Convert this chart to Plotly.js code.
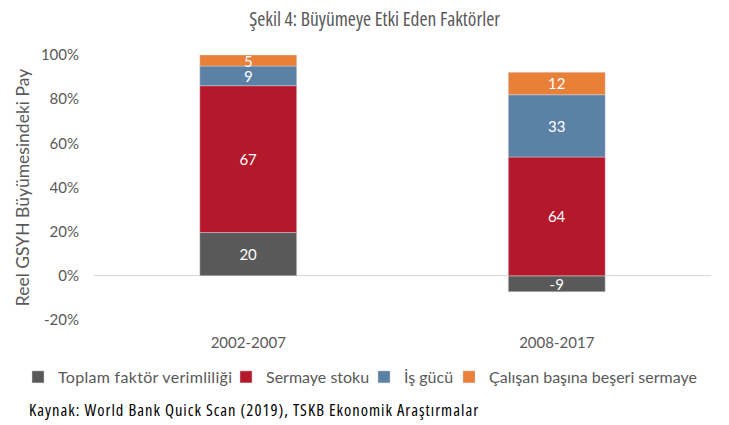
<!DOCTYPE html>
<html>
<head>
<meta charset="utf-8">
<script src="https://cdn.plot.ly/plotly-3.0.1.min.js"></script>
<style>html,body{margin:0;padding:0;background:#fff;}#chart{width:729px;height:425px;}
.gtitle { font-stretch: 75% !important; }
.annotation-text { font-stretch: 75% !important; letter-spacing: 1px; }
.legendtext { letter-spacing: 0.3px; }
</style>
</head>
<body>
<div id="chart"></div>
<script>
// Categories
var periods = ['2002-2007', '2008-2017'];
var tfp = [19.6, -7.2];
var capital = [66.5, 53.8];
var labour = [8.9, 28.2];
var humanCapital = [5.0, 10.2];
// Data labels as printed on the chart
var tfpLabels = ['20', '-9'];
var capitalLabels = ['67', '64'];
var labourLabels = ['9', '33'];
var humanCapitalLabels = ['5', '12'];
// Series names
var seriesNames = ['Toplam faktör verimliliği', 'Sermaye stoku', 'İş gücü', 'Çalışan başına beşeri sermaye'];
// Y tick labels
var yTickVals = [-20, 0, 20, 40, 60, 80, 100];
var yTickText = ['-20%', '0%', '20%', '40%', '60%', '80%', '100%'];

var colors = ['#595959', '#B5172B', '#5B81A7', '#E8803A'];
var fontMain = 'Lato, "Open Sans", sans-serif';
var fontNarrow = '"Open Sans", sans-serif';
var legendIds = ['legend', 'legend2', 'legend3', 'legend4'];
var legendTextX = [58, 266, 404, 489];

function mk(y, txt, i) {
  return {
    type: 'bar', x: periods, y: y, name: seriesNames[i], text: txt, legend: legendIds[i],
    textposition: 'inside', insidetextanchor: 'middle', textangle: 0,
    constraintext: 'none', cliponaxis: false,
    textfont: {family: fontMain, size: 15, color: '#ffffff'},
    marker: {color: colors[i], line: {color: 'rgba(217,217,217,0.6)', width: 0.75}},
    hoverinfo: 'skip'
  };
}
var data = [mk(tfp, tfpLabels, 0), mk(capital, capitalLabels, 1), mk(labour, labourLabels, 2), mk(humanCapital, humanCapitalLabels, 3)];

var layout = {
  width: 729, height: 425,
  margin: {l: 93.5, r: 17.5, t: 55, b: 104.8},
  paper_bgcolor: '#ffffff', plot_bgcolor: '#ffffff',
  barmode: 'relative', bargap: 0.686,
  showlegend: true,
  title: {text: 'Şekil 4: Büyümeye Etki Eden Faktörler', x: 0.514, xref: 'container', xanchor: 'center', y: 1 - 19/425, yref: 'container', yanchor: 'middle',
          font: {family: fontNarrow, size: 19.5, color: '#595959'}},
  xaxis: {showgrid: false, showline: false, zeroline: false, ticks: '', ticklabelstandoff: 12,
          tickfont: {family: fontMain, size: 15, color: '#595959'}},
  yaxis: {range: [-20, 100], tickvals: yTickVals, ticktext: yTickText, showgrid: false, showline: false,
          zeroline: true, zerolinecolor: '#d9d9d9', zerolinewidth: 1, ticks: '', ticklabelstandoff: 14,
          tickfont: {family: fontMain, size: 15, color: '#595959'},
          title: {text: 'Reel GSYH Büyümesindeki Pay', standoff: 6, font: {family: fontMain, size: 17.5, color: '#595959'}}},
  annotations: [{text: 'Kaynak: World Bank Quick Scan (2019), TSKB Ekonomik Araştırmalar', xref: 'paper', yref: 'paper',
                 x: (26 - 93.5) / 618, y: (320.2 - 410) / 265.2, xanchor: 'left', yanchor: 'middle', showarrow: false,
                 font: {family: fontNarrow, size: 16.5, color: '#000000'}}]
};
legendIds.forEach(function (id, i) {
  layout[id] = {orientation: 'h', xref: 'container', yref: 'container', x: (legendTextX[i] - 40) / 729, xanchor: 'left',
                y: 1 - 377/425, yanchor: 'middle', bgcolor: 'rgba(0,0,0,0)',
                font: {family: fontMain, size: 16, color: '#595959'}, itemwidth: 30};
});
Plotly.newPlot('chart', data, layout, {staticPlot: true, displayModeBar: false});
</script>
</body>
</html>
